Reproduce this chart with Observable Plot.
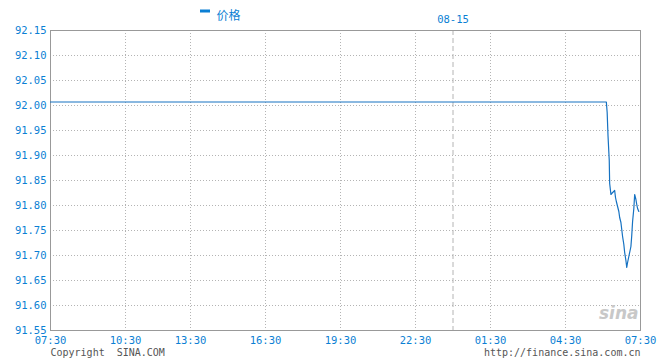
<!DOCTYPE html>
<html>
<head>
<meta charset="utf-8">
<script src="https://cdn.jsdelivr.net/npm/d3@7"></script>
<script src="https://cdn.jsdelivr.net/npm/@observablehq/plot@0.6"></script>
<style>
  body { margin: 0; background: #fff; }
  #chart svg { display: block; }
</style>
</head>
<body>
<div id="chart"></div>
<script>
// minutes since 07:30 (08-14)
const times = [0, 1358, 1360, 1362, 1365, 1366, 1369, 1372, 1378, 1380,
  1382, 1385, 1388, 1390, 1393, 1395, 1397, 1400, 1402, 1405,
  1407, 1409, 1412, 1414, 1417, 1419, 1421, 1424, 1426, 1429,
  1431, 1433, 1436];
const prices = [92.007, 92.007, 91.986, 91.94, 91.89, 91.844, 91.822, 91.825, 91.83, 91.816,
  91.808, 91.798, 91.788, 91.776, 91.766, 91.752, 91.738, 91.722, 91.706, 91.69,
  91.676, 91.686, 91.698, 91.706, 91.718, 91.74, 91.768, 91.794, 91.822, 91.812,
  91.802, 91.794, 91.788];

const xTicks = [0, 180, 360, 540, 720, 900, 1080, 1260, 1440];
const xLabels = ["07:30", "10:30", "13:30", "16:30", "19:30", "22:30", "01:30", "04:30", "07:30"];
const dayBreak = [990];
const dayLabel = "08-15";
const yTicks = [91.55, 91.60, 91.65, 91.70, 91.75, 91.80, 91.85, 91.90, 91.95, 92.00, 92.05, 92.10, 92.15];
const seriesName = "价格";

const data = times.map((t, i) => ({t, p: prices[i]}));
const blue = "#0b7fd4";
const lineBlue = "#1672c2";
const mono = "'DejaVu Sans Mono', 'Liberation Mono', monospace";

const chart = Plot.plot({
  width: 660,
  height: 360,
  marginLeft: 50,
  marginRight: 20,
  marginTop: 30,
  marginBottom: 30,
  style: {fontFamily: mono, fontSize: "10px", background: "#fff", overflow: "visible"},
  x: {type: "linear", domain: [0, 180, 360, 1440], range: [50, 125, 190, 640]},
  y: {domain: [91.55, 92.15]},
  marks: [
    Plot.gridY(yTicks.slice(1, -1), {stroke: "#b4b4b4", strokeOpacity: 1, strokeDasharray: "1,2"}),
    Plot.gridX(xTicks.slice(1, -1), {stroke: "#b4b4b4", strokeOpacity: 1, strokeDasharray: "1,2"}),
    Plot.ruleX(dayBreak, {stroke: "#b4b4b4", strokeDasharray: "5,3"}),
    Plot.frame({stroke: "#999"}),
    Plot.axisY(yTicks, {tickSize: 0, tickPadding: 4, tickFormat: d => d.toFixed(2), fill: blue, label: null, fontSize: 10.5}),
    Plot.axisX(xTicks, {tickSize: 0, tickPadding: 6, tickFormat: (d, i) => xLabels[i], fill: blue, label: null, fontSize: 10.5}),
    Plot.text(dayBreak, {x: d => d, frameAnchor: "top", dy: -8, text: () => dayLabel, fill: blue, lineAnchor: "bottom", fontSize: 10.5}),
    Plot.line(data, {x: "t", y: "p", stroke: lineBlue, strokeWidth: 1.2}),
    Plot.text([seriesName], {frameAnchor: "top-left", dx: 166, dy: -19, text: d => d, fill: blue, fontSize: 12, fontFamily: "'Noto Sans CJK SC', sans-serif", textAnchor: "start"}),
    Plot.text(["Copyright  SINA.COM"], {frameAnchor: "bottom-left", dy: 25, text: d => d, fill: "#555", textAnchor: "start", fontSize: 10}),
    Plot.text(["http://finance.sina.com.cn"], {frameAnchor: "bottom-right", dy: 25, text: d => d, fill: "#555", textAnchor: "end", fontSize: 10}),
    Plot.text(["sina"], {frameAnchor: "bottom-right", dx: -2, dy: -12, text: d => d, fill: "#c8c8c8", textAnchor: "end", fontSize: 17, fontStyle: "italic", fontWeight: "bold", fontFamily: "'DejaVu Sans', sans-serif"})
  ]
});

// legend marker (a short thick dash before the series name)
d3.select(chart).append("rect")
  .attr("x", 200).attr("y", 9.5).attr("width", 10).attr("height", 3)
  .attr("fill", blue);

document.getElementById("chart").appendChild(chart);
</script>
</body>
</html>
